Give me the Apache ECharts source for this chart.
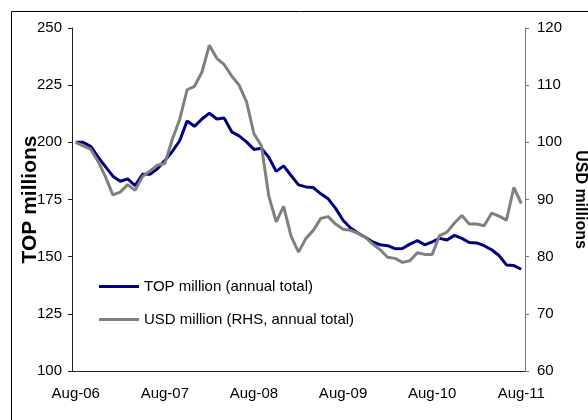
<!DOCTYPE html>
<html>
<head>
<meta charset="utf-8">
<script src="https://cdn.jsdelivr.net/npm/echarts@6/dist/echarts.min.js"></script>
<style>
  html, body { margin: 0; padding: 0; background: #fff; }
  #chart { width: 588px; height: 420px; }
</style>
</head>
<body>
<div id="chart"></div>
<script>
// monthly, Aug-06 .. Aug-11
const months = [
  "Aug-06", "Sep-06", "Oct-06", "Nov-06", "Dec-06",
  "Jan-07", "Feb-07", "Mar-07", "Apr-07", "May-07", "Jun-07", "Jul-07", "Aug-07", "Sep-07", "Oct-07", "Nov-07", "Dec-07",
  "Jan-08", "Feb-08", "Mar-08", "Apr-08", "May-08", "Jun-08", "Jul-08", "Aug-08", "Sep-08", "Oct-08", "Nov-08", "Dec-08",
  "Jan-09", "Feb-09", "Mar-09", "Apr-09", "May-09", "Jun-09", "Jul-09", "Aug-09", "Sep-09", "Oct-09", "Nov-09", "Dec-09",
  "Jan-10", "Feb-10", "Mar-10", "Apr-10", "May-10", "Jun-10", "Jul-10", "Aug-10", "Sep-10", "Oct-10", "Nov-10", "Dec-10",
  "Jan-11", "Feb-11", "Mar-11", "Apr-11", "May-11", "Jun-11", "Jul-11", "Aug-11"
];

// TOP million (annual total), left axis
const topMillion = [
  200, 200, 198.3, 193.6, 189.4, 185.2, 183, 184, 181.1, 186, 186, 188.4, 192,
  196, 200.7, 209.3, 207, 210.2, 212.8, 210.2, 210.6, 204.6, 202.8, 200.2, 196.9,
  197.4, 193.5, 187.3, 189.7, 185.5, 181.4, 180.5, 180.2, 177.5, 175.3, 171.1, 165.9,
  162.5, 160.3, 158.5, 156.4, 155.2, 154.8, 153.5, 153.6, 155.5, 157, 155.2, 156.5,
  158, 157.3, 159.3, 158, 156.2, 156, 154.8, 153, 150.5, 146.4, 146.1, 144.5
];

// USD million (RHS, annual total), right axis
const usdMillion = [
  100, 99.4, 98.8, 96.7, 94, 90.8, 91.3, 92.6, 91.6, 94, 95, 96, 96.3,
  100.5, 104, 109.2, 109.8, 112.3, 117, 114.7, 113.6, 111.6, 110, 107.1, 101.5,
  99.4, 90.6, 86.1, 88.8, 83.6, 80.8, 83.2, 84.6, 86.7, 87, 85.7, 84.8,
  84.6, 84.1, 83.4, 82.2, 81.2, 79.9, 79.7, 79, 79.3, 80.7, 80.4, 80.4,
  83.7, 84.3, 85.9, 87.2, 85.7, 85.7, 85.4, 87.6, 87.1, 86.4, 92.1, 89.3
];

const leftTicks = [100, 250, 25];   // min, max, step
const rightTicks = [60, 120, 10];

const FONT = "'Liberation Sans', Arial, sans-serif";

const chart = echarts.init(document.getElementById("chart"));
chart.setOption({
  animation: false,
  textStyle: { fontFamily: FONT },
  graphic: [{
    type: "rect",
    shape: { x: 11.5, y: 11.5, width: 620, height: 460 },
    style: { fill: "none", stroke: "#000", lineWidth: 1 },
    silent: true
  }],
  grid: { left: 72, right: 63, top: 28, bottom: 49, outerBoundsMode: "none" },
  legend: {
    orient: "vertical",
    left: 94,
    top: 274,
    icon: "rect",
    itemWidth: 40,
    itemHeight: 3,
    itemGap: 18,
    textStyle: { fontFamily: FONT, fontSize: 15, color: "#000" },
    data: ["TOP million (annual total)", "USD million (RHS, annual total)"]
  },
  xAxis: {
    type: "category",
    data: months,
    boundaryGap: true,
    axisLine: { lineStyle: { color: "#222", width: 1 } },
    axisTick: { interval: 11, length: 5, lineStyle: { color: "#222" } },
    axisLabel: { interval: 11, margin: 15, fontSize: 15, color: "#000", fontFamily: FONT },
    splitLine: { show: false }
  },
  yAxis: [{
    type: "value",
    position: "left",
    min: leftTicks[0], max: leftTicks[1], interval: leftTicks[2],
    name: "TOP millions",
    nameLocation: "middle",
    nameRotate: 90,
    nameGap: 31,
    nameMoveOverlap: false,
    nameTextStyle: { fontFamily: FONT, fontSize: 21, fontWeight: "bold", color: "#000" },
    axisLine: { show: true, lineStyle: { color: "#222", width: 1 } },
    axisTick: { show: true, length: 4, lineStyle: { color: "#222" } },
    axisLabel: { margin: 10, fontSize: 15, color: "#000", fontFamily: FONT },
    splitLine: { show: false }
  }, {
    type: "value",
    position: "right",
    min: rightTicks[0], max: rightTicks[1], interval: rightTicks[2],
    name: "USD millions",
    nameLocation: "middle",
    nameRotate: -90,
    nameGap: 47,
    nameMoveOverlap: false,
    nameTextStyle: { fontFamily: FONT, fontSize: 16, fontWeight: "bold", color: "#000" },
    axisLine: { show: true, lineStyle: { color: "#777", width: 1 } },
    axisTick: { show: true, length: 4, lineStyle: { color: "#777" } },
    axisLabel: { margin: 12, fontSize: 15, color: "#000", fontFamily: FONT },
    splitLine: { show: false }
  }],
  series: [{
    name: "TOP million (annual total)",
    type: "line",
    yAxisIndex: 0,
    data: topMillion,
    symbol: "none",
    lineStyle: { color: "#000080", width: 3 },
    itemStyle: { color: "#000080" }
  }, {
    name: "USD million (RHS, annual total)",
    type: "line",
    yAxisIndex: 1,
    data: usdMillion,
    symbol: "none",
    lineStyle: { color: "#808080", width: 3 },
    itemStyle: { color: "#808080" }
  }]
});
</script>
</body>
</html>
